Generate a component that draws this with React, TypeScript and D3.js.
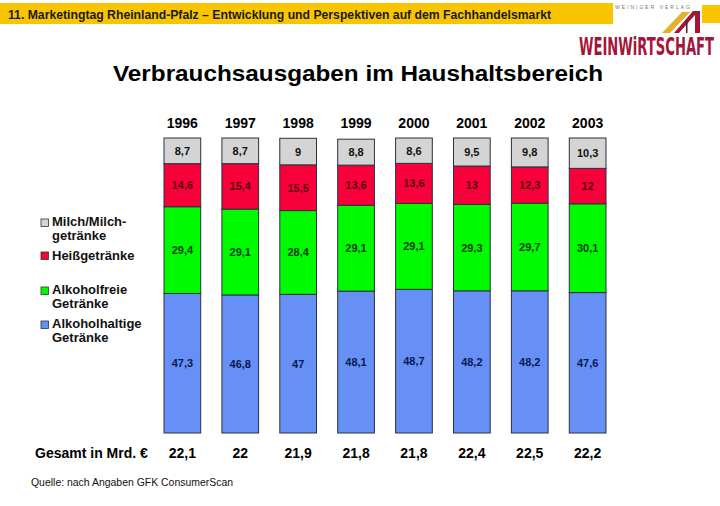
import React from "react";
import * as d3 from "d3";

const years = ["1996", "1997", "1998", "1999", "2000", "2001", "2002", "2003"];
const alkoholhaltig = [47.3, 46.8, 47, 48.1, 48.7, 48.2, 48.2, 47.6];
const alkoholfrei = [29.4, 29.1, 28.4, 29.1, 29.1, 29.3, 29.7, 30.1];
const heiss = [14.6, 15.4, 15.5, 13.6, 13.6, 13, 12.3, 12];
const milch = [8.7, 8.7, 9, 8.8, 8.6, 9.5, 9.8, 10.3];
const gesamt = ["22,1", "22", "21,9", "21,8", "21,8", "22,4", "22,5", "22,2"];

const seriesKeys = ["alkoholhaltig", "alkoholfrei", "heiss", "milch"];
const seriesValues: Record<string, number[]> = { alkoholhaltig, alkoholfrei, heiss, milch };
const fills: Record<string, string> = {
  alkoholhaltig: "#6690F6",
  alkoholfrei: "#00FA00",
  heiss: "#F8003A",
  milch: "#D4D4D4",
};
const labelColors: Record<string, string> = {
  alkoholhaltig: "#0B1850",
  alkoholfrei: "#0A3A0A",
  heiss: "#5A0010",
  milch: "#111111",
};

const legendItems = [
  { key: "milch", lines: ["Milch/Milch-", "getränke"], box: 219, base: [226, 240] },
  { key: "heiss", lines: ["Heißgetränke"], box: 252, base: [260] },
  { key: "alkoholfrei", lines: ["Alkoholfreie", "Getränke"], box: 287, base: [294, 308] },
  { key: "alkoholhaltig", lines: ["Alkoholhaltige", "Getränke"], box: 321, base: [328, 342] },
];

const fmt = (v: number) => String(v).replace(".", ",");
const FONT = "'Liberation Sans', Arial, Helvetica, sans-serif";

export default function App() {
  const x = d3.scaleBand<string>().domain(years).range([164, 606]).paddingInner(0.366).paddingOuter(0);
  const y = d3.scaleLinear().domain([0, 100]).range([433, 138]);

  const table = years.map((yr, i) => {
    const row: any = { year: yr };
    seriesKeys.forEach((k) => (row[k] = seriesValues[k][i]));
    return row;
  });
  const stacked = d3.stack<any>().keys(seriesKeys)(table);

  return (
    <svg
      width={720}
      height={506}
      style={{ position: "absolute", left: 0, top: 0, background: "#fff" }}
      fontFamily={FONT}
    >
      <rect x={0} y={0} width={720} height={506} fill="#fff" />
      {/* header band */}
      <rect x={0} y={3} width={613} height={21} fill="#F8C500" />
      <rect x={702} y={5} width={18} height={18} fill="#F8C500" />
      <text x={8} y={19} fontSize={13} fontWeight="bold" fill="#1a1a1a" textLength={543} lengthAdjust="spacingAndGlyphs">
        11. Marketingtag Rheinland-Pfalz – Entwicklung und Perspektiven auf dem Fachhandelsmarkt
      </text>
      {/* logo */}
      <text x={615} y={9} fontSize={5} fill="#777" textLength={75} lengthAdjust="spacing">
        WEINIGER VERLAG
      </text>
      <polygon points="662,33 670,33 690,12 682,12" fill="#E2B22A" />
      <polygon points="674,33 679,33 695,15 695,33 700,33 700,11 693,11" fill="#A3163A" />
      <rect x={686} y={20} width={1.5} height={13} fill="#3a2a2a" />
      <g transform="translate(714,55) scale(1,1.75)">
        <text
          x={0}
          y={0}
          fontSize={14.5}
          fontWeight="bold"
          fill="#A3163A"
          textAnchor="end"
          fontFamily="'DejaVu Sans Condensed', 'DejaVu Sans', sans-serif"
          textLength={135}
          lengthAdjust="spacingAndGlyphs"
        >
          WEINWiRTSCHAFT
        </text>
      </g>

      {/* title */}
      <text x={358} y={81} fontSize={22} fontWeight="bold" fill="#000" textAnchor="middle" textLength={490} lengthAdjust="spacingAndGlyphs">
        Verbrauchsausgaben im Haushaltsbereich
      </text>

      {/* year labels */}
      {years.map((yr) => (
        <text key={yr} x={x(yr)! + x.bandwidth() / 2} y={128} fontSize={14} fontWeight="bold" textAnchor="middle" fill="#000">
          {yr}
        </text>
      ))}

      {/* bars */}
      {stacked.map((s) => (
        <g key={s.key}>
          {s.map((d, i) => (
            <g key={i}>
              <rect
                x={x(years[i])!}
                y={y(d[1])}
                width={x.bandwidth()}
                height={y(d[0]) - y(d[1])}
                fill={fills[s.key]}
                stroke="#2b3040"
                strokeWidth={1}
              />
              <text
                x={x(years[i])! + x.bandwidth() / 2}
                y={(y(d[0]) + y(d[1])) / 2 + 4}
                fontSize={11}
                fontWeight="bold"
                textAnchor="middle"
                fill={labelColors[s.key]}
              >
                {fmt(seriesValues[s.key][i])}
              </text>
            </g>
          ))}
        </g>
      ))}

      {/* legend */}
      {legendItems.map((it) => (
        <g key={it.key}>
          <rect x={41} y={it.box} width={7.5} height={7.5} fill={fills[it.key]} stroke="#333" strokeWidth={0.8} />
          {it.lines.map((ln, j) => (
            <text key={j} x={52} y={it.base[j]} fontSize={13} fontWeight="bold" fill="#111">
              {ln}
            </text>
          ))}
        </g>
      ))}

      {/* totals */}
      <text x={35} y={458} fontSize={14} fontWeight="bold" fill="#000">
        Gesamt in Mrd. €
      </text>
      {years.map((yr, i) => (
        <text key={yr} x={x(yr)! + x.bandwidth() / 2} y={458} fontSize={14} fontWeight="bold" textAnchor="middle" fill="#000">
          {gesamt[i]}
        </text>
      ))}

      <text
        x={31}
        y={486}
        fontSize={11}
        fill="#111"
        fontFamily="'Liberation Sans Narrow', 'Liberation Sans', Arial, sans-serif"
        textLength={202}
        lengthAdjust="spacingAndGlyphs"
      >
        Quelle: nach Angaben GFK ConsumerScan
      </text>
    </svg>
  );
}
